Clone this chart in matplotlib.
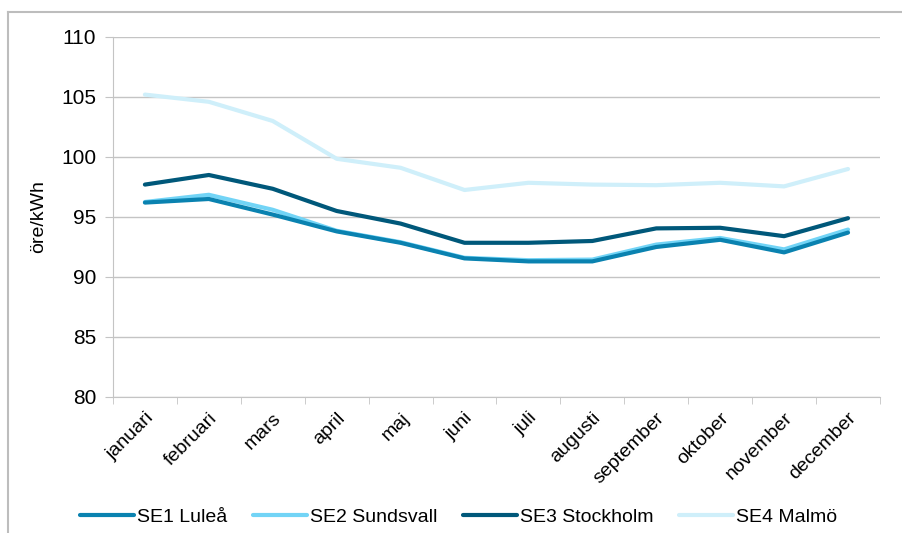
import numpy as np
import matplotlib.pyplot as plt
from matplotlib.lines import Line2D

months = ['januari', 'februari', 'mars', 'april', 'maj', 'juni', 'juli',
          'augusti', 'september', 'oktober', 'november', 'december']
se1 = [96.2, 96.5, 95.2, 93.8, 92.85, 91.55, 91.3, 91.3, 92.5, 93.1, 92.05, 93.7]
se2 = [96.25, 96.85, 95.6, 93.85, 92.9, 91.6, 91.4, 91.45, 92.7, 93.25, 92.3, 93.95]
se3 = [97.7, 98.5, 97.35, 95.5, 94.45, 92.85, 92.85, 93.0, 94.05, 94.1, 93.4, 94.9]
se4 = [105.2, 104.6, 103.0, 99.85, 99.1, 97.25, 97.85, 97.7, 97.65, 97.85, 97.55, 99.0]

series = [('SE1 Luleå', se1, '#0A82B0'),
          ('SE2 Sundsvall', se2, '#72D4F6'),
          ('SE3 Stockholm', se3, '#00587A'),
          ('SE4 Malmö', se4, '#CFEFFA')]

plt.rcParams['font.family'] = ['Liberation Sans', 'DejaVu Sans']

fig = plt.figure(figsize=(9.03, 5.33), dpi=100)
ax = fig.add_axes([0.1251, 0.2552, 0.8494, 0.6754])

x = np.arange(len(months))
for name, vals, col in series[::-1]:
    ax.plot(x, vals, color=col, lw=3, label=name, solid_capstyle='round')

ax.set_xlim(-0.5, 11.5)
ax.set_ylim(80, 110)
ax.set_yticks(np.arange(80, 111, 5))
ax.grid(axis='y', color='#C4C4C4', lw=1)
ax.set_axisbelow(True)
ax.tick_params(axis='y', length=6, color='#C4C4C4', labelsize=15, pad=6)

ax.set_xticks(x)
ax.set_xticklabels(months, rotation=45, ha='right', rotation_mode='anchor', fontsize=14)
ax.set_xticks(np.arange(-0.5, 12, 1), minor=True)
ax.tick_params(axis='x', which='major', length=0, pad=9)
ax.tick_params(axis='x', which='minor', length=5, color='#C4C4C4')

for s in ['top', 'right']:
    ax.spines[s].set_visible(False)
for s in ['left', 'bottom']:
    ax.spines[s].set_color('#C4C4C4')

ax.set_ylabel('öre/kWh', fontsize=14, labelpad=10)

handles, labels = ax.get_legend_handles_labels()
leg = fig.legend(handles[::-1], labels[::-1], loc='center', bbox_to_anchor=(0.508, 0.03),
                 ncol=4, frameon=False, fontsize=14, handlelength=2.8,
                 handletextpad=0.15, columnspacing=1.3)

# outer frame lines
fig.add_artist(Line2D([8 / 903, 8 / 903], [0, 1 - 12 / 533], transform=fig.transFigure,
                      color='#BDBDBD', lw=1.5))
fig.add_artist(Line2D([8 / 903, 1], [1 - 12 / 533, 1 - 12 / 533], transform=fig.transFigure,
                      color='#BDBDBD', lw=1.5))

fig.savefig('out.png', dpi=100)
